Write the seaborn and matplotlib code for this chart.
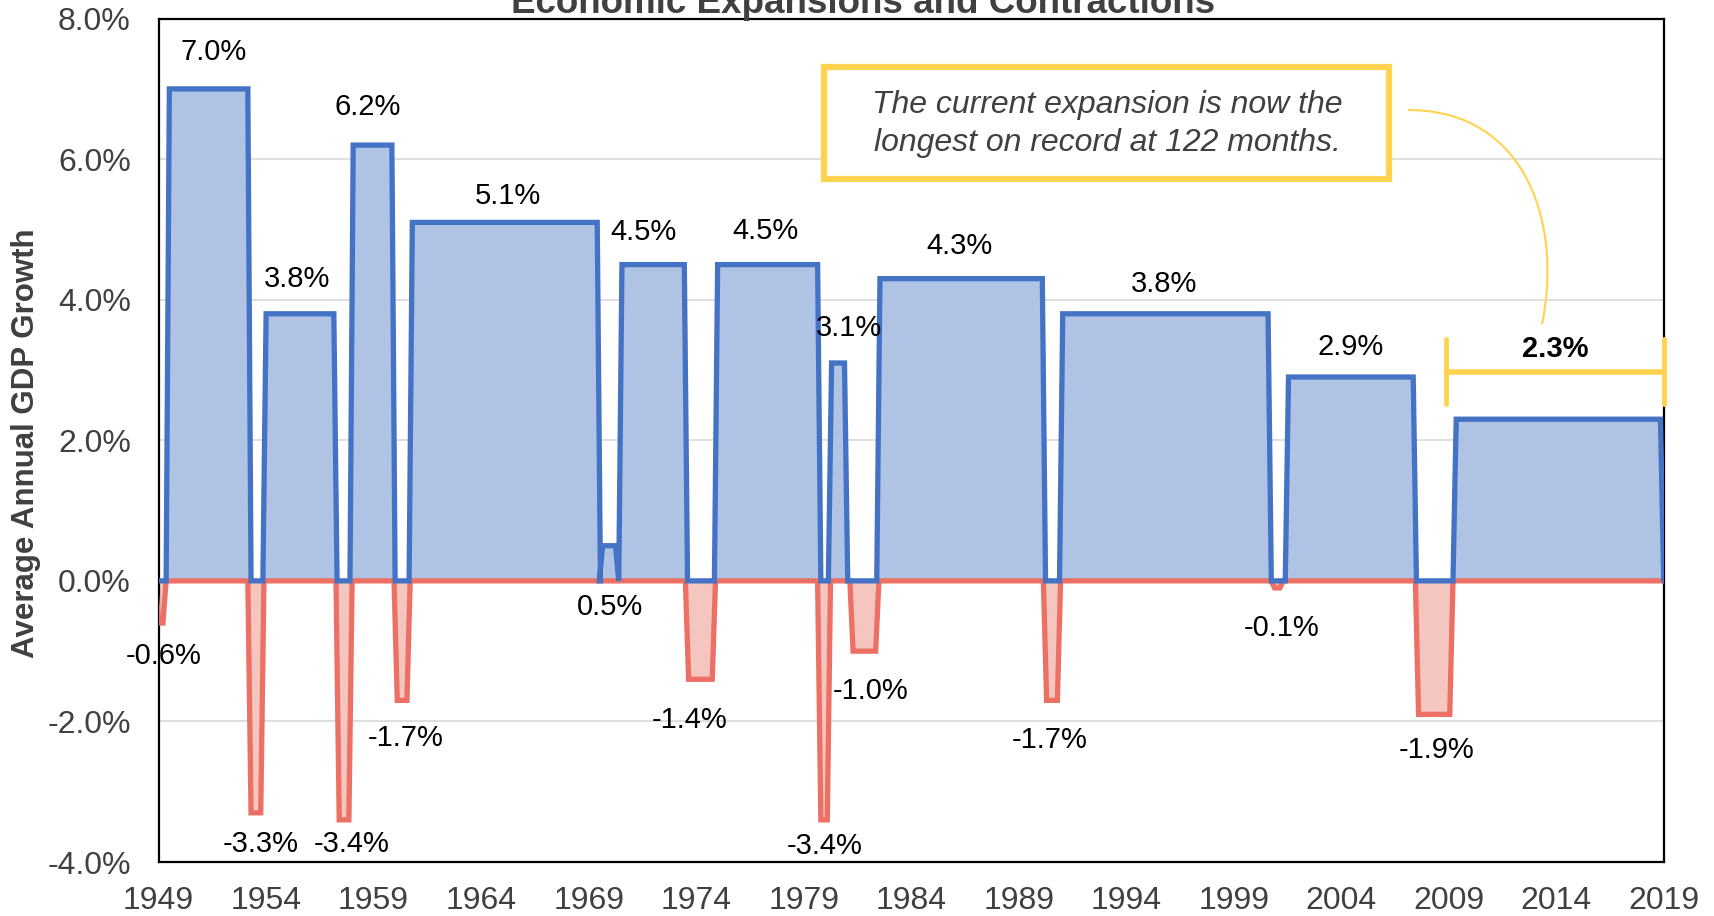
import numpy as np
import pandas as pd
import matplotlib
matplotlib.use("Agg")
import matplotlib.pyplot as plt
import seaborn as sns
from matplotlib.path import Path
from matplotlib.patches import PathPatch, Rectangle

# ---------------- data ----------------
phase_start = [1949.0, 1949.5, 1953.3, 1954.0, 1957.4, 1958.05, 1960.1, 1960.8,
               1969.65, 1970.55, 1973.65, 1975.0, 1979.8, 1980.3, 1981.3, 1982.55,
               1990.3, 1991.05, 2000.9, 2001.55, 2007.6, 2009.35]
phase_end = [1949.2, 1953.15, 1953.75, 1957.15, 1957.85, 1959.85, 1960.55, 1969.4,
             1970.25, 1973.45, 1974.75, 1979.65, 1980.1, 1980.9, 1982.35, 1990.1,
             1990.8, 2000.6, 2001.15, 2007.35, 2009.05, 2018.85]
phase_value = [-0.6, 7.0, -3.3, 3.8, -3.4, 6.2, -1.7, 5.1,
               0.5, 4.5, -1.4, 4.5, -3.4, 3.1, -1.0, 4.3,
               -1.7, 3.8, -0.1, 2.9, -1.9, 2.3]
x_ticks = list(range(1949, 2020, 5))
y_ticks = [-4, -2, 0, 2, 4, 6, 8]
title_text = "Economic Expansions and Contractions"
ylabel_text = "Average Annual GDP Growth"
note_text = "The current expansion is now the\nlongest on record at 122 months."

# ---------------- layout (label anchor positions, data coords) ----------------
label_pos = [(1949.25, -1.07), (1951.54, 7.52), (1953.73, -3.74), (1955.46, 4.30),
             (1958.0, -3.74), (1958.72, 6.74), (1960.5, -2.23), (1965.23, 5.48),
             (1970.01, -0.37), (1971.54, 4.96), (1973.72, -1.98), (1977.23, 4.98),
             (1979.98, -3.77), (1981.10, 3.60), (1982.12, -1.57), (1986.24, 4.76),
             (1990.46, -2.27), (1995.75, 4.22), (2001.25, -0.67), (2004.45, 3.33),
             (2008.42, -2.41), (2013.96, 3.30)]

BLUE = "#4472C4"
BLUE_FILL = "#AFC3E4"
RED = "#EC7063"
RED_FILL = "#F5C6C0"
YEL = "#FFD250"
GRAY = "#404040"
DARK = "#404040"

sns.set_theme(style="white")
plt.rcParams['font.family'] = ['Liberation Sans', 'DejaVu Sans']

W, H = 1715, 916
fig = plt.figure(figsize=(W / 100, H / 100), dpi=100)
ax = fig.add_axes([158.6 / W, 1 - 862 / H, (1663.7 - 158.6) / W, (862 - 18.6) / H])

RAMP = 0.15
XMIN, XMAX = 1949.0, 2019.0


def build_path(positive):
    xs, ys = [], []
    for s, e, v in zip(phase_start, phase_end, phase_value):
        if (v > 0) == positive:
            xs += [s - RAMP, s, e, e + RAMP]
            ys += [0.0, v, v, 0.0]
    if xs[0] > XMIN:
        xs = [XMIN] + xs
        ys = [0.0] + ys
    if xs[-1] < XMAX:
        xs.append(XMAX)
        ys.append(0.0)
    return pd.DataFrame({"year": xs, "value": ys})


blue_df = build_path(True)
red_df = build_path(False)

ax.fill_between(blue_df["year"], blue_df["value"], 0, color=BLUE_FILL, lw=0, zorder=1)
ax.fill_between(red_df["year"], red_df["value"], 0, color=RED_FILL, lw=0, zorder=1)
sns.lineplot(data=red_df, x="year", y="value", sort=False, estimator=None,
             color=RED, lw=3.8, ax=ax, zorder=3)
sns.lineplot(data=blue_df, x="year", y="value", sort=False, estimator=None,
             color=BLUE, lw=3.8, ax=ax, zorder=4)
for line in ax.lines:
    line.set_solid_joinstyle('miter')

ax.set_xlim(XMIN, XMAX)
ax.set_ylim(-4, 8)
ax.set_xticks(x_ticks)
ax.set_xticklabels([str(t) for t in x_ticks])
ax.set_yticks(y_ticks)
ax.set_yticklabels([f"{t:.1f}%" for t in y_ticks])
ax.tick_params(axis='both', length=0, labelsize=23, colors=GRAY)
ax.tick_params(axis='x', pad=17)
ax.tick_params(axis='y', pad=20)
ax.yaxis.grid(True, color="#D9D9D9", lw=1.2)
ax.xaxis.grid(False)
ax.set_axisbelow(True)
for sp in ax.spines.values():
    sp.set_visible(True)
    sp.set_color("black")
    sp.set_linewidth(1.6)
ax.set_xlabel("")
ax.set_ylabel(ylabel_text, fontsize=22.5, fontweight='bold', color=DARK)
ax.yaxis.set_label_coords(-0.078, 0.497)

# data labels
for i, ((lx, ly), v) in enumerate(zip(label_pos, phase_value)):
    bold = (i == len(phase_value) - 1)
    ax.text(lx, ly, f"{v:.1f}%", ha='center', va='center', fontsize=21,
            color='black', fontweight='bold' if bold else 'normal', zorder=6)

# bracket for current expansion
bx0, bx1, by = 2008.88, 2019.0, 2.97
ax.plot([bx0, bx1], [by, by], color=YEL, lw=4, solid_capstyle='butt', clip_on=False, zorder=5)
for bx in (bx0, bx1):
    ax.plot([bx, bx], [2.51, 3.44], color=YEL, lw=3.5, solid_capstyle='round',
            clip_on=False, zorder=5)

# title (partly cut at the top, as in the reference)
fig.text(863 / W, 1 - 13 / H, title_text, ha='center', va='baseline', fontsize=26.5,
         fontweight='bold', color=DARK)

# annotation box
rect = Rectangle((824 / W, 1 - 178.6 / H), (1389 - 824) / W, (178.6 - 67.5) / H,
                 transform=fig.transFigure, facecolor='white', edgecolor=YEL,
                 lw=4.5, zorder=10)
fig.patches.append(rect)
fig.text(1107 / W, 1 - 124 / H, note_text, ha='center', va='center', fontsize=23,
         style='italic', color=DARK, linespacing=1.37, zorder=11)

# curved connector
pts = [(1408, 110), (1530, 110), (1562, 230), (1542, 324)]
verts = [(x / W, 1 - y / H) for x, y in pts]
conn = PathPatch(Path(verts, [Path.MOVETO, Path.CURVE4, Path.CURVE4, Path.CURVE4]),
                 transform=fig.transFigure, facecolor='none', edgecolor=YEL, lw=1.5, zorder=10)
fig.patches.append(conn)

fig.savefig("out.png", dpi=100)
